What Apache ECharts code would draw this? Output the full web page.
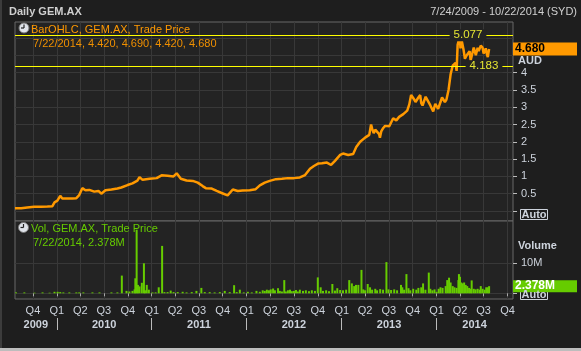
<!DOCTYPE html>
<html>
<head>
<meta charset="utf-8">
<script src="https://cdn.jsdelivr.net/npm/echarts@6/dist/echarts.min.js"></script>
<style>
  html, body { margin: 0; padding: 0; background: #1e1e1e; }
  #chart { width: 581px; height: 351px; }
</style>
</head>
<body>
<div id="chart"></div>
<script>
// daily close, [date, price AUD]
const priceBars = [
  ['2009-07-24', 0.08], ['2009-08-17', 0.08], ['2009-09-09', 0.10], ['2009-10-06', 0.12],
  ['2009-11-02', 0.12], ['2009-11-26', 0.13], ['2009-12-15', 0.14], ['2009-12-23', 0.25],
  ['2010-01-03', 0.30], ['2010-01-14', 0.44], ['2010-01-22', 0.36], ['2010-02-10', 0.36],
  ['2010-03-01', 0.36], ['2010-03-17', 0.37], ['2010-03-28', 0.46], ['2010-04-09', 0.66],
  ['2010-04-21', 0.60], ['2010-05-06', 0.61], ['2010-05-25', 0.56], ['2010-06-10', 0.58],
  ['2010-06-21', 0.50], ['2010-07-07', 0.60], ['2010-07-30', 0.62], ['2010-08-22', 0.65],
  ['2010-09-06', 0.68], ['2010-09-30', 0.75], ['2010-10-19', 0.80], ['2010-11-07', 0.88],
  ['2010-11-15', 0.98], ['2010-11-27', 0.90], ['2010-12-24', 0.93], ['2011-01-20', 0.95],
  ['2011-02-08', 1.03], ['2011-03-03', 1.02], ['2011-03-26', 1.00], ['2011-04-07', 1.09],
  ['2011-04-23', 0.93], ['2011-05-15', 0.88], ['2011-06-08', 0.87], ['2011-06-27', 0.82],
  ['2011-07-16', 0.72], ['2011-07-28', 0.66], ['2011-08-20', 0.65], ['2011-09-08', 0.58],
  ['2011-09-27', 0.52], ['2011-10-20', 0.45], ['2011-11-09', 0.62], ['2011-11-28', 0.58],
  ['2011-12-17', 0.59], ['2012-01-13', 0.60], ['2012-02-05', 0.63], ['2012-02-21', 0.74],
  ['2012-03-11', 0.82], ['2012-03-30', 0.87], ['2012-04-23', 0.92], ['2012-05-16', 0.93],
  ['2012-06-08', 0.95], ['2012-07-01', 0.95], ['2012-07-24', 0.97], ['2012-08-13', 1.04],
  ['2012-09-01', 1.22], ['2012-09-16', 1.30], ['2012-10-02', 1.37], ['2012-10-17', 1.38],
  ['2012-11-05', 1.40], ['2012-11-21', 1.33], ['2012-12-06', 1.45], ['2012-12-26', 1.62],
  ['2013-01-06', 1.66], ['2013-01-26', 1.62], ['2013-02-14', 1.65], ['2013-02-26', 1.85],
  ['2013-03-13', 2.00], ['2013-04-01', 2.12], ['2013-04-17', 2.20], ['2013-04-24', 2.50],
  ['2013-04-28', 2.38], ['2013-05-04', 2.25], ['2013-05-10', 2.35], ['2013-05-25', 2.22],
  ['2013-05-28', 2.12], ['2013-06-02', 2.30], ['2013-06-10', 2.40], ['2013-06-17', 2.46],
  ['2013-07-03', 2.45], ['2013-07-18', 2.68], ['2013-07-30', 2.62], ['2013-08-10', 2.72],
  ['2013-08-26', 2.80], ['2013-09-10', 2.90], ['2013-09-18', 3.08], ['2013-09-25', 3.35],
  ['2013-09-28', 3.40], ['2013-10-07', 3.22], ['2013-10-12', 3.15], ['2013-10-23', 3.28],
  ['2013-10-30', 3.35], ['2013-11-03', 3.12], ['2013-11-08', 3.05], ['2013-11-15', 3.20],
  ['2013-11-20', 3.30], ['2013-11-26', 3.28], ['2013-12-08', 3.05], ['2013-12-12', 3.00],
  ['2013-12-19', 2.88], ['2013-12-27', 3.10], ['2014-01-01', 3.12], ['2014-01-07', 2.95],
  ['2014-01-16', 3.15], ['2014-01-22', 3.28], ['2014-01-28', 3.26], ['2014-02-02', 3.15],
  ['2014-02-08', 3.22], ['2014-02-16', 3.50], ['2014-02-24', 3.95], ['2014-03-04', 4.20],
  ['2014-03-11', 4.25], ['2014-03-15', 4.28], ['2014-03-19', 4.05], ['2014-03-23', 4.80],
  ['2014-03-31', 5.05], ['2014-04-03', 4.70], ['2014-04-07', 4.95], ['2014-04-10', 5.00],
  ['2014-04-15', 4.65], ['2014-04-20', 4.40], ['2014-04-27', 4.50], ['2014-05-04', 4.55],
  ['2014-05-08', 4.62], ['2014-05-12', 4.35], ['2014-05-15', 4.30], ['2014-05-20', 4.60],
  ['2014-05-24', 4.72], ['2014-05-28', 4.70], ['2014-06-01', 4.50], ['2014-06-04', 4.55],
  ['2014-06-08', 4.72], ['2014-06-12', 4.62], ['2014-06-16', 4.60], ['2014-06-20', 4.78],
  ['2014-06-24', 4.80], ['2014-06-27', 4.72], ['2014-07-01', 4.55], ['2014-07-05', 4.60],
  ['2014-07-09', 4.70], ['2014-07-13', 4.55], ['2014-07-17', 4.45], ['2014-07-22', 4.68]
];

// volume in millions, [date, volume]
const volumeBars = [
  ['2009-07-28', 0.3], ['2009-08-29', 0.3], ['2009-10-07', 0.2], ['2009-11-07', 0.3],
  ['2009-12-04', 0.2], ['2009-12-23', 0.5], ['2010-01-04', 0.5], ['2010-01-14', 0.4],
  ['2010-01-26', 0.3], ['2010-02-18', 0.3], ['2010-03-17', 0.3], ['2010-03-28', 0.3],
  ['2010-04-13', 0.3], ['2010-05-18', 0.3], ['2010-06-14', 0.3], ['2010-07-30', 0.3],
  ['2010-08-22', 0.3], ['2010-09-08', 5.9], ['2010-09-26', 0.8], ['2010-10-07', 0.6],
  ['2010-10-19', 0.8], ['2010-10-27', 1.3], ['2010-10-30', 5.0], ['2010-11-04', 21.2],
  ['2010-11-09', 2.8], ['2010-11-15', 2.3], ['2010-11-24', 3.5], ['2010-12-02', 10.0],
  ['2010-12-06', 1.0], ['2010-12-13', 2.8], ['2010-12-21', 1.2], ['2011-01-04', 0.3],
  ['2011-01-16', 0.3], ['2011-01-28', 2.0], ['2011-02-10', 15.8], ['2011-02-19', 0.4],
  ['2011-03-03', 0.4], ['2011-03-15', 0.9], ['2011-03-26', 0.4], ['2011-04-11', 0.4],
  ['2011-04-30', 0.5], ['2011-05-15', 0.3], ['2011-06-04', 0.4], ['2011-06-22', 0.8],
  ['2011-07-11', 1.8], ['2011-07-24', 0.4], ['2011-08-12', 0.4], ['2011-08-31', 0.3],
  ['2011-09-20', 0.4], ['2011-10-09', 0.8], ['2011-10-28', 0.4], ['2011-11-14', 2.7],
  ['2011-11-24', 0.4], ['2011-12-06', 1.2], ['2011-12-21', 0.3], ['2012-01-06', 0.5],
  ['2012-01-21', 0.3], ['2012-02-08', 0.8], ['2012-02-21', 0.5], ['2012-03-03', 1.0],
  ['2012-03-11', 0.8], ['2012-03-19', 1.2], ['2012-03-27', 1.0], ['2012-04-03', 1.3],
  ['2012-04-12', 1.6], ['2012-04-19', 1.0], ['2012-05-01', 1.7], ['2012-05-08', 0.8],
  ['2012-05-16', 0.6], ['2012-05-25', 4.4], ['2012-05-31', 0.6], ['2012-06-08', 1.0],
  ['2012-06-16', 1.2], ['2012-06-23', 0.7], ['2012-07-01', 0.8], ['2012-07-09', 1.1],
  ['2012-07-16', 0.6], ['2012-07-24', 1.2], ['2012-08-05', 0.8], ['2012-08-16', 1.0],
  ['2012-08-28', 0.7], ['2012-09-08', 1.0], ['2012-09-20', 0.8], ['2012-10-01', 5.3],
  ['2012-10-12', 2.0], ['2012-10-21', 0.8], ['2012-11-02', 1.0], ['2012-11-13', 0.7],
  ['2012-11-26', 3.1], ['2012-12-06', 0.9], ['2012-12-15', 1.7], ['2012-12-26', 1.1],
  ['2013-01-06', 1.0], ['2013-01-18', 1.2], ['2013-01-30', 4.4], ['2013-02-09', 3.3],
  ['2013-02-18', 2.4], ['2013-02-25', 2.8], ['2013-03-06', 2.8], ['2013-03-18', 7.8],
  ['2013-03-25', 1.3], ['2013-04-01', 1.0], ['2013-04-11', 3.1], ['2013-04-20', 2.0],
  ['2013-04-28', 1.2], ['2013-05-10', 1.5], ['2013-05-17', 1.0], ['2013-05-29', 1.4],
  ['2013-06-09', 1.2], ['2013-06-22', 10.4], ['2013-06-30', 1.3], ['2013-07-10', 1.1],
  ['2013-07-22', 1.3], ['2013-08-02', 1.0], ['2013-08-17', 2.8], ['2013-08-22', 2.0],
  ['2013-08-29', 1.2], ['2013-09-07', 6.4], ['2013-09-15', 1.7], ['2013-09-22', 1.0],
  ['2013-10-03', 1.5], ['2013-10-15', 1.2], ['2013-10-23', 1.8], ['2013-11-03', 2.0],
  ['2013-11-10', 3.3], ['2013-11-19', 1.2], ['2013-12-02', 6.9], ['2013-12-08', 1.5],
  ['2013-12-16', 1.0], ['2013-12-24', 1.3], ['2014-01-01', 0.5], ['2014-01-09', 1.5],
  ['2014-01-16', 2.0], ['2014-01-24', 1.8], ['2014-02-05', 2.4], ['2014-02-11', 4.4],
  ['2014-02-18', 5.2], ['2014-02-24', 3.6], ['2014-03-04', 2.4], ['2014-03-11', 2.0],
  ['2014-03-19', 1.8], ['2014-03-26', 4.4], ['2014-03-28', 6.4], ['2014-04-01', 5.5],
  ['2014-04-06', 3.6], ['2014-04-11', 3.3], ['2014-04-17', 3.6], ['2014-04-23', 2.8],
  ['2014-04-29', 2.4], ['2014-05-06', 1.8], ['2014-05-12', 1.5], ['2014-05-16', 4.3],
  ['2014-05-24', 1.5], ['2014-05-31', 1.3], ['2014-06-08', 1.5], ['2014-06-16', 1.2],
  ['2014-06-20', 2.4], ['2014-06-27', 1.5], ['2014-07-05', 1.2], ['2014-07-11', 2.0],
  ['2014-07-17', 2.0], ['2014-07-22', 2.378]
];

const rangeStart = '2009-07-24';
const rangeEnd = '2014-10-22';

const quarterTicks = [
  '2009-10-01', '2010-01-01', '2010-04-01', '2010-07-01', '2010-10-01',
  '2011-01-01', '2011-04-01', '2011-07-01', '2011-10-01',
  '2012-01-01', '2012-04-01', '2012-07-01', '2012-10-01',
  '2013-01-01', '2013-04-01', '2013-07-01', '2013-10-01',
  '2014-01-01', '2014-04-01', '2014-07-01', '2014-10-01'
];
const quarterLabels = [
  'Q4', 'Q1', 'Q2', 'Q3', 'Q4', 'Q1', 'Q2', 'Q3', 'Q4', 'Q1', 'Q2',
  'Q3', 'Q4', 'Q1', 'Q2', 'Q3', 'Q4', 'Q1', 'Q2', 'Q3', 'Q4'
];
const yearStarts = ['2010-01-01', '2011-01-01', '2012-01-01', '2013-01-01', '2014-01-01'];
const yearMids = ['2009-10-12', '2010-07-02', '2011-07-02', '2012-07-01', '2013-07-02', '2014-05-27'];
const yearLabels = ['2009', '2010', '2011', '2012', '2013', '2014'];

const priceGridLines = [0, 0.5, 1, 1.5, 2, 2.5, 3, 3.5, 4, 4.5, 5];
const priceTicks = [0, 0.5, 1, 1.5, 2, 2.5, 3, 3.5, 4];
const priceLabels = [0.5, 1, 1.5, 2, 2.5, 3, 3.5, 4];
const volumeTicks = [0, 10];
const volumeLabels = [10];

const lastOHLC = ['7/22/2014', 4.420, 4.690, 4.420, 4.680];
const lastVolume = 2.378;
const periodHigh = 5.077;
const periodLow = 4.183;

const chart = echarts.init(document.getElementById('chart'));
// dates go on a plain value axis as timestamps, so ticks can sit on quarter starts
const ts = s => +echarts.time.parse(s);
const qTs = quarterTicks.map(ts);
const midTs = yearMids.map(ts);
const font = '"Liberation Sans", Arial, sans-serif';
const axisText = '#cdd3dc';
const gridColor = '#383838';
const noLine = { color: 'rgba(0,0,0,0)', width: 1 };

const nearest = (list, v) => {
  let best = 0;
  list.forEach((t, i) => { if (Math.abs(t - v) < Math.abs(list[best] - v)) best = i; });
  return best;
};

const xBase = {
  type: 'value',
  position: 'bottom',
  min: ts(rangeStart),
  max: ts(rangeEnd),
  axisLine: { show: false },
  splitLine: { show: true, lineStyle: { color: gridColor } }
};

const option = {
  animation: false,
  backgroundColor: '#1e1e1e',
  grid: [
    { left: 15, right: 68, top: 22, height: 199, show: true, backgroundColor: '#232323', borderColor: '#686868', borderWidth: 1, outerBoundsMode: 'none' },
    { left: 15, right: 68, top: 221, height: 78, show: true, backgroundColor: '#232323', borderColor: '#686868', borderWidth: 1, outerBoundsMode: 'none' }
  ],
  xAxis: [
    Object.assign({}, xBase, {
      gridIndex: 0,
      axisTick: { show: false, customValues: qTs },
      axisLabel: { show: false, customValues: qTs }
    }),
    Object.assign({}, xBase, {
      gridIndex: 1,
      axisTick: { show: true, length: 3, lineStyle: { color: '#aaaaaa' }, customValues: qTs },
      axisLabel: {
        customValues: qTs,
        formatter: v => quarterLabels[nearest(qTs, v)],
        color: axisText, fontSize: 11, fontFamily: font, margin: 6
      }
    }),
    Object.assign({}, xBase, {
      gridIndex: 1,
      offset: 19,
      splitLine: { show: false },
      axisTick: { show: true, length: 12, lineStyle: { color: '#bbbbbb' }, customValues: yearStarts.map(ts) },
      axisLabel: {
        customValues: midTs,
        formatter: v => yearLabels[nearest(midTs, v)],
        color: axisText, fontSize: 11, fontWeight: 'bold', fontFamily: font, margin: 1
      }
    })
  ],
  yAxis: [
    {
      gridIndex: 0, position: 'right', min: -0.289, max: 5.462,
      axisLine: { show: false },
      axisTick: { show: true, length: 4, lineStyle: { color: '#bbbbbb' }, customValues: priceTicks },
      axisLabel: { customValues: priceLabels, color: axisText, fontSize: 11, fontFamily: font, margin: 8 },
      splitLine: { show: false }
    },
    {
      gridIndex: 0, position: 'right', min: -0.289, max: 5.462,
      axisLine: { show: false },
      axisTick: { show: false, customValues: priceGridLines },
      axisLabel: { show: false },
      splitLine: { show: true, lineStyle: { color: gridColor } }
    },
    {
      gridIndex: 1, position: 'right', min: -1.9, max: 24.1,
      axisLine: { show: false },
      axisTick: { show: true, length: 4, lineStyle: { color: '#bbbbbb' }, customValues: volumeTicks },
      axisLabel: { customValues: volumeLabels, formatter: v => v + 'M', color: axisText, fontSize: 11, fontFamily: font, margin: 8 },
      splitLine: { show: true, lineStyle: { color: gridColor } }
    }
  ],
  series: [
    {
      name: 'BarOHLC',
      type: 'line',
      xAxisIndex: 0,
      yAxisIndex: 0,
      data: priceBars.map(d => [ts(d[0]), d[1]]),
      symbol: 'none',
      lineStyle: { color: '#ff9900', width: 2.5 },
      z: 3,
      markLine: {
        silent: true,
        symbol: ['none', 'none'],
        data: [
          { yAxis: periodHigh, lineStyle: { color: '#ffff00', width: 1, type: 'solid' }, label: { show: false } },
          { yAxis: periodLow, lineStyle: { color: '#ffff00', width: 1, type: 'solid' }, label: { show: false } },
          {
            yAxis: lastOHLC[4],
            lineStyle: noLine,
            label: {
              show: true, position: 'end', distance: 0,
              formatter: lastOHLC[4].toFixed(3),
              color: '#000000', backgroundColor: '#ff9900',
              fontWeight: 'bold', fontSize: 12, fontFamily: font,
              width: 62, lineHeight: 13, padding: [0, 0, 0, 2]
            }
          }
        ]
      }
    },
    {
      name: 'Vol',
      type: 'bar',
      xAxisIndex: 1,
      yAxisIndex: 2,
      data: volumeBars.map(d => [ts(d[0]), d[1]]),
      barWidth: 2,
      itemStyle: { color: '#66cc00' },
      z: 3,
      markLine: {
        silent: true,
        symbol: ['none', 'none'],
        data: [{
          yAxis: lastVolume,
          lineStyle: noLine,
          label: {
            show: true, position: 'end', distance: 0,
            formatter: lastVolume.toFixed(3) + 'M',
            color: '#ffffff', backgroundColor: '#66cc00',
            fontWeight: 'bold', fontSize: 12, fontFamily: font,
            width: 62, lineHeight: 12, padding: [0, 0, 0, 2]
          }
        }]
      }
    }
  ]
};

chart.setOption(option);

const yHigh = chart.convertToPixel({ yAxisIndex: 0 }, periodHigh);
const yLow = chart.convertToPixel({ yAxisIndex: 0 }, periodLow);

const clock = (cx, cy) => ({
  type: 'group', z: 10,
  children: [
    { type: 'circle', shape: { cx: cx, cy: cy, r: 5 }, style: { fill: '#dfe3ea', stroke: '#777777', lineWidth: 1 } },
    { type: 'line', shape: { x1: cx, y1: cy, x2: cx, y2: cy - 3.5 }, style: { stroke: '#222222', lineWidth: 1.2 } },
    { type: 'line', shape: { x1: cx, y1: cy, x2: cx - 3, y2: cy }, style: { stroke: '#222222', lineWidth: 1.2 } }
  ]
});
const txt = (x, y, text, fill, extra) => ({
  type: 'text', x: x, y: y, z: 10,
  style: Object.assign({ text: text, fill: fill, font: '11px ' + font, verticalAlign: 'middle', align: 'left' }, extra || {})
});
const autoBox = (y) => ({
  type: 'group', z: 1,
  children: [
    { type: 'rect', shape: { x: 520.5, y: y + 0.5, width: 27, height: 10 }, style: { fill: 'none', stroke: '#cdd3dc', lineWidth: 1 } },
    txt(534, y + 5.5, 'Auto', axisText, { font: 'bold 11px ' + font, align: 'center' })
  ]
});
const usDate = s => s.replace(/^(\d+)-0?(\d+)-0?(\d+)$/, '$2/$3/$1');

chart.setOption({
  graphic: [
    { type: 'rect', shape: { x: 0, y: 0, width: 2, height: 351 }, style: { fill: '#3c3c3c' }, z: 0 },
    { type: 'rect', shape: { x: 0, y: 348, width: 581, height: 3 }, style: { fill: '#bdbdbd' }, z: 0 },
    txt(9, 12, 'Daily GEM.AX', '#d0d0d0', { font: 'bold 11px ' + font }),
    txt(577, 12, usDate(rangeStart) + ' - ' + usDate(rangeEnd) + ' (SYD)', '#d0d0d0', { align: 'right' }),
    clock(24, 28),
    txt(31, 30, 'BarOHLC, GEM.AX, Trade Price', '#ff9900'),
    txt(33, 44, lastOHLC[0] + ', ' + lastOHLC.slice(1).map(v => v.toFixed(3)).join(', '), '#f09000'),
    clock(23.5, 227.5),
    txt(31, 229, 'Vol, GEM.AX, Trade Price', '#66cc00'),
    txt(33, 242.5, lastOHLC[0] + ', ' + lastVolume.toFixed(3) + 'M', '#66cc00'),
    txt(518, 61, 'AUD', axisText, { font: 'bold 11px ' + font }),
    txt(518, 245.5, 'Volume', axisText, { font: 'bold 11px ' + font }),
    autoBox(209),
    autoBox(289),
    txt(468, yHigh, periodHigh.toFixed(3), '#e6e632', { font: '11.5px ' + font, align: 'center', backgroundColor: '#232323', padding: [0, 4] }),
    txt(484, yLow, periodLow.toFixed(3), '#e6e632', { font: '11.5px ' + font, align: 'center', backgroundColor: '#232323', padding: [0, 4] })
  ]
});

window.addEventListener('resize', () => chart.resize());
</script>
</body>
</html>
